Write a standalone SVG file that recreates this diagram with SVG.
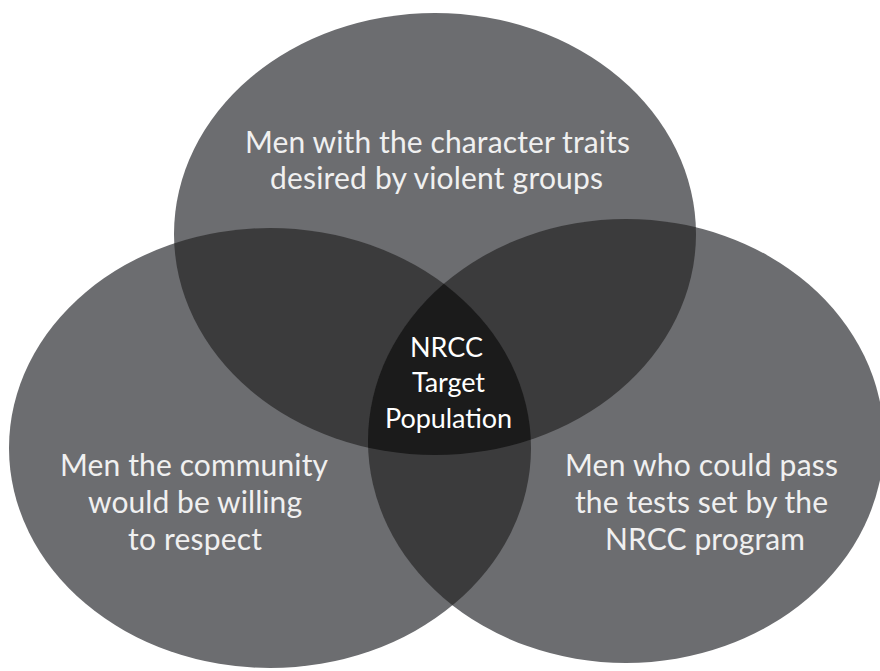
<svg xmlns="http://www.w3.org/2000/svg" xmlns:xlink="http://www.w3.org/1999/xlink" width="880" height="671" viewBox="0 0 880 671">
  <style>
    .set { fill: #6c6d70; }
    .two { fill: #3b3b3c; }
    .three { fill: #1b1b1b; }
    .lbl { font-family: Lato, "Open Sans", "Liberation Sans", sans-serif; font-size: 30px; fill: #f0f0f0; text-anchor: middle; }
    .core { fill: #ffffff; font-size: 27px; }
  </style>
  <defs>
    <ellipse id="eTop" cx="435" cy="234" rx="261" ry="221"/>
    <ellipse id="eLeft" cx="270" cy="448" rx="261" ry="220"/>
    <ellipse id="eRight" cx="626" cy="441" rx="258" ry="222"/>
    <clipPath id="cTop"><use xlink:href="#eTop"/></clipPath>
    <clipPath id="cLeft"><use xlink:href="#eLeft"/></clipPath>
    <clipPath id="cRight"><use xlink:href="#eRight"/></clipPath>
  </defs>
  <rect width="880" height="671" fill="#ffffff"/>
  <g id="set-top"><use xlink:href="#eTop" class="set"/></g>
  <g id="set-left"><use xlink:href="#eLeft" class="set"/></g>
  <g id="set-right"><use xlink:href="#eRight" class="set"/></g>
  <g id="overlap-top-left"><use xlink:href="#eLeft" class="two" clip-path="url(#cTop)"/></g>
  <g id="overlap-top-right"><use xlink:href="#eRight" class="two" clip-path="url(#cTop)"/></g>
  <g id="overlap-left-right"><use xlink:href="#eRight" class="two" clip-path="url(#cLeft)"/></g>
  <g id="overlap-all" clip-path="url(#cTop)"><use xlink:href="#eRight" class="three" clip-path="url(#cLeft)"/></g>
  <g id="label-top">
    <text class="lbl" x="437.5" y="153" textLength="385">Men with the character traits</text>
    <text class="lbl" x="436.5" y="189" textLength="333">desired by violent groups</text>
  </g>
  <g id="label-left">
    <text class="lbl" x="194" y="476" textLength="268">Men the community</text>
    <text class="lbl" x="195" y="513" textLength="214">would be willing</text>
    <text class="lbl" x="195" y="550" textLength="134">to respect</text>
  </g>
  <g id="label-right">
    <text class="lbl" x="701.5" y="476" textLength="273">Men who could pass</text>
    <text class="lbl" x="701.5" y="513" textLength="253">the tests set by the</text>
    <text class="lbl" x="705" y="550" textLength="200">NRCC program</text>
  </g>
  <g id="label-core">
    <text class="lbl core" x="446.5" y="357" textLength="73">NRCC</text>
    <text class="lbl core" x="448.5" y="392" textLength="73">Target</text>
    <text class="lbl core" x="448.5" y="428" textLength="127">Population</text>
  </g>
</svg>
